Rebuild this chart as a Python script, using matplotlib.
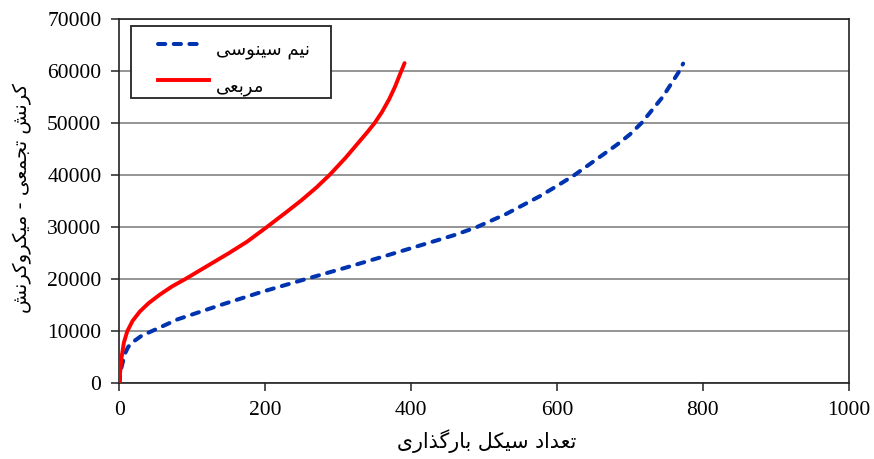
import matplotlib
matplotlib.use("Agg")
import matplotlib.pyplot as plt
from matplotlib.lines import Line2D
from matplotlib.patches import Rectangle

# ---- Persian text shaping (contextual forms + right-to-left order) ----
FORMS = {
    "ا": ("\uFE8D", "\uFE8E", None, None),
    "ب": ("\uFE8F", "\uFE90", "\uFE91", "\uFE92"),
    "ت": ("\uFE95", "\uFE96", "\uFE97", "\uFE98"),
    "ج": ("\uFE9D", "\uFE9E", "\uFE9F", "\uFEA0"),
    "د": ("\uFEA9", "\uFEAA", None, None),
    "ذ": ("\uFEAB", "\uFEAC", None, None),
    "ر": ("\uFEAD", "\uFEAE", None, None),
    "ز": ("\uFEAF", "\uFEB0", None, None),
    "س": ("\uFEB1", "\uFEB2", "\uFEB3", "\uFEB4"),
    "ش": ("\uFEB5", "\uFEB6", "\uFEB7", "\uFEB8"),
    "ع": ("\uFEC9", "\uFECA", "\uFECB", "\uFECC"),
    "ل": ("\uFEDD", "\uFEDE", "\uFEDF", "\uFEE0"),
    "م": ("\uFEE1", "\uFEE2", "\uFEE3", "\uFEE4"),
    "ن": ("\uFEE5", "\uFEE6", "\uFEE7", "\uFEE8"),
    "و": ("\uFEED", "\uFEEE", None, None),
    "ی": ("\uFBFC", "\uFBFD", "\uFBFE", "\uFBFF"),
    "ک": ("\uFB8E", "\uFB8F", "\uFB90", "\uFB91"),
    "گ": ("\uFB92", "\uFB93", "\uFB94", "\uFB95"),
}


def joins_left(ch):
    return ch in FORMS and FORMS[ch][2] is not None


def shape_fa(text):
    out = []
    for i, ch in enumerate(text):
        if ch not in FORMS:
            out.append(ch)
            continue
        prev = text[i - 1] if i > 0 else ""
        nxt = text[i + 1] if i + 1 < len(text) else ""
        from_right = joins_left(prev)
        to_left = joins_left(ch) and nxt in FORMS
        iso, fin, ini, med = FORMS[ch]
        if from_right and to_left:
            out.append(med)
        elif from_right:
            out.append(fin)
        elif to_left:
            out.append(ini)
        else:
            out.append(iso)
    return "".join(reversed(out))


# ---- data ----
square_cycles = [0, 0.5, 1.5, 3, 6, 10.7, 18, 28, 40, 55, 72, 90, 120, 150,
                 175, 202, 230, 250, 270, 288, 310, 330, 340, 350, 360, 370,
                 378, 384, 391]
square_strain = [0, 1500, 3000, 5100, 7800, 10000, 12000, 13800, 15400, 17000,
                 18600, 20000, 22500, 25000, 27200, 30000, 33000, 35200, 37600,
                 40000, 43300, 46600, 48250, 50000, 52100, 54600, 57000, 59100,
                 61500]

sine_cycles = [0, 1, 3, 7.5, 12, 19, 30, 44, 80, 140, 195, 255, 310, 362,
               420, 460, 490, 530, 576, 600, 624, 650, 682, 700, 716, 745,
               768, 773]
sine_strain = [0, 1800, 3200, 5700, 7000, 8000, 9100, 10000, 12300, 15100,
               17550, 20000, 22200, 24350, 26800, 28500, 30000, 32500, 35900,
               37900, 40000, 42600, 45800, 47800, 50000, 55000, 60000, 61400]

x_ticks = [0, 200, 400, 600, 800, 1000]
y_ticks = [0, 10000, 20000, 30000, 40000, 50000, 60000, 70000]

label_sine = "نیم سینوسی"
label_square = "مربعی"
x_title = "تعداد سیکل بارگذاری"
y_title = "کرنش تجمعی - میکروکرنش"

BLUE = "#0033B0"
RED = "#FF0000"
EDGE = "#222222"
W, H = 874, 459


def fig_xy(x_px, y_px):
    return x_px / W, 1 - y_px / H


# ---- figure ----
fig = plt.figure(figsize=(W / 100, H / 100), dpi=100)
ax = fig.add_axes([0.1367, 0.1649, 0.8343, 0.7941])

dash = (0, (1.8, 2.1))
ax.plot(sine_cycles, sine_strain, color=BLUE, lw=2.9, linestyle=dash,
        dash_capstyle="round", zorder=3)
ax.plot(square_cycles, square_strain, color=RED, lw=2.8,
        solid_capstyle="round", solid_joinstyle="round", zorder=4)

ax.set_xlim(0, 1000)
ax.set_ylim(0, 70000)
ax.set_xticks(x_ticks)
ax.set_yticks(y_ticks)
ax.set_xticklabels([str(v) for v in x_ticks])
ax.set_yticklabels([str(v) for v in y_ticks])

ax.yaxis.grid(True, color="#8c8c8c", lw=1.3)
ax.set_axisbelow(True)
for s in ax.spines.values():
    s.set_color(EDGE)
    s.set_linewidth(1.2)

for lab in ax.get_xticklabels() + ax.get_yticklabels():
    lab.set_fontfamily("Liberation Serif")
    lab.set_fontsize(15.5)
ax.tick_params(direction="out", length=6, width=1.1, color=EDGE, pad=7)

# axis titles
fig.text(*fig_xy(487, 441), shape_fa(x_title), family="DejaVu Sans",
         fontsize=14.8, ha="center", va="center")
fig.text(*fig_xy(22, 198), shape_fa(y_title), family="DejaVu Sans",
         fontsize=14, ha="center", va="center", rotation=90)

# legend box
x0, y0 = fig_xy(131, 98)
x1, y1 = fig_xy(331, 26)
fig.add_artist(Rectangle((x0, y0), x1 - x0, y1 - y0, transform=fig.transFigure,
                         facecolor="white", edgecolor=EDGE, lw=1.3, zorder=5))
bx0, by = fig_xy(158, 44)
bx1, _ = fig_xy(202, 44)
fig.add_artist(Line2D([bx0, bx1], [by, by], transform=fig.transFigure,
                      color=BLUE, lw=2.9, linestyle=dash,
                      dash_capstyle="round", zorder=6))
rx0, ry = fig_xy(158, 80)
rx1, _ = fig_xy(209, 80)
fig.add_artist(Line2D([rx0, rx1], [ry, ry], transform=fig.transFigure,
                      color=RED, lw=2.8, zorder=6))
fig.text(*fig_xy(216, 50), shape_fa(label_sine), family="DejaVu Sans",
         fontsize=13, ha="left", va="center", zorder=7)
fig.text(*fig_xy(216, 87), shape_fa(label_square), family="DejaVu Sans",
         fontsize=13, ha="left", va="center", zorder=7)

fig.savefig("out.png", dpi=100, facecolor="white")
